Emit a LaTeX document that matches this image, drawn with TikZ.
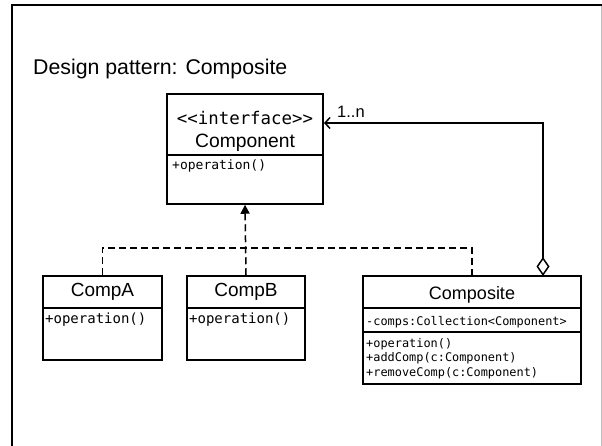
\documentclass[tikz,border=0pt]{standalone}
\usepackage{fontspec}
\setmainfont{Liberation Sans}
\setmonofont{DejaVu Sans Mono}
\usetikzlibrary{arrows.meta}
\begin{document}
\begin{tikzpicture}[x=1pt,y=-1pt,
  cls/.style={draw,line width=1.5pt,inner sep=0pt},
  clsname/.style={inner sep=0pt,font=\fontsize{19}{19}\selectfont},
  op/.style={anchor=west,inner sep=0pt},
  dep/.style={line width=1.5pt,dash pattern=on 7pt off 4pt}]
\useasboundingbox (0,0) rectangle (602,446);
\draw[line width=2.2pt] (12,446) -- (12,5) -- (602,5);
\draw[black!25] (601,6) -- (601,446);
\node[anchor=base west,inner sep=0pt,font=\fontsize{21.3}{22}\selectfont] (title) at (33,75) {Design pattern: Composite};
% the interface
\node[cls,minimum width=156pt,minimum height=110pt] (component) at (245,149) {};
\draw[line width=1.5pt] (167,155) -- (323,155);
\node[inner sep=0pt,font=\fontsize{17.4}{18}\ttfamily] (ifc) at (245,118) {<<interface>>};
\node[clsname,font=\fontsize{19.3}{20}\selectfont] (cname) at (245,143) {Component};
\node[op,font=\fontsize{13}{13}\ttfamily] (cop) at (172,166) {+operation()};
% the leaves
\node[cls,minimum width=119pt,minimum height=84pt] (compa) at (102.5,318) {};
\node[cls,minimum width=118pt,minimum height=84pt] (compb) at (246,318) {};
\draw[line width=1.5pt] (43,308) -- (162,308);
\draw[line width=1.5pt] (187,308) -- (305,308);
\node[clsname] (aname) at (102.5,292) {CompA};
\node[clsname] (bname) at (246,292) {CompB};
\node[op,font=\fontsize{14}{14}\ttfamily] (aop) at (45,320) {+operation()};
\node[op,font=\fontsize{14}{14}\ttfamily] (bop) at (189,320) {+operation()};
% the composite
\node[cls,minimum width=218pt,minimum height=108pt] (composite) at (472,330) {};
\draw[line width=1.5pt] (363,308) -- (581,308);
\draw[line width=1.5pt] (363,332) -- (581,332);
\node[clsname,font=\fontsize{18}{18}\selectfont] (sname) at (472,295) {Composite};
\node[op,font=\fontsize{11.9}{12}\ttfamily] (sattr) at (366,322) {-comps:Collection<Component>};
\node[op,font=\fontsize{11.9}{12}\ttfamily] (sop1) at (366,344) {+operation()};
\node[op,font=\fontsize{11.9}{12}\ttfamily] (sop2) at (366,358.5) {+addComp(c:Component)};
\node[op,font=\fontsize{11.9}{12}\ttfamily] (sop3) at (366,373) {+removeComp(c:Component)};
% realization
\coordinate (bus) at (472,248);
\draw[dep] (compa.north) |- (bus) -- (composite.north);
\draw[dep,-{Triangle[length=9pt,width=9pt]}] (compb.north) -- (component.south);
% aggregation
\coordinate (holder) at (543,276);
\coordinate (cin) at (324,123);
\draw[line width=1.5pt,{Diamond[open,length=19pt,width=13pt]}-{Straight Barb[length=5pt,width=11pt]}] (holder) |- (cin);
\node[anchor=base west,inner sep=0pt,font=\fontsize{16.5}{16}\selectfont] (mult) at (337,118) {1..n};
\end{tikzpicture}
\end{document}
